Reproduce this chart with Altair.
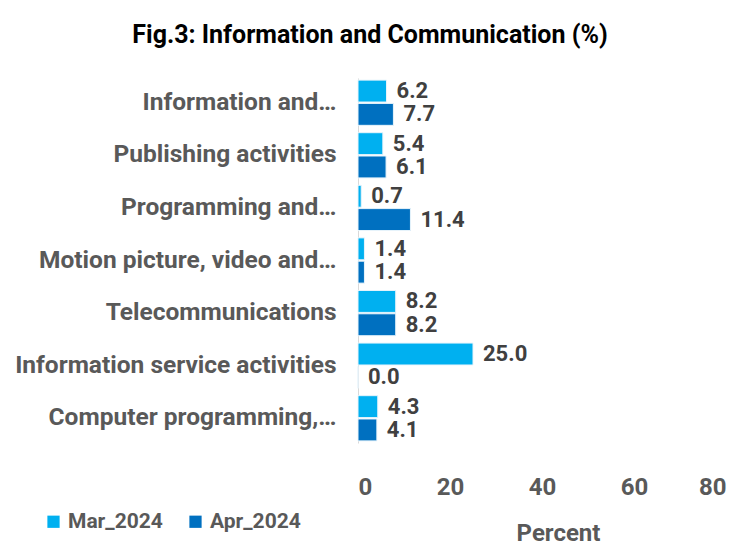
import altair as alt
import pandas as pd

categories = [
    "Information and…",
    "Publishing activities",
    "Programming and…",
    "Motion picture, video and…",
    "Telecommunications",
    "Information service activities",
    "Computer programming,…",
]
mar_2024 = [6.2, 5.4, 0.7, 1.4, 8.2, 25.0, 4.3]
apr_2024 = [7.7, 6.1, 11.4, 1.4, 8.2, 0.0, 4.1]
series = ["Mar_2024", "Apr_2024"]
colors = ["#00B0F0", "#0070C0"]
x_ticks = [0, 20, 40, 60, 80]

rows = []
for c, m, a in zip(categories, mar_2024, apr_2024):
    rows.append({"category": c, "series": "Mar_2024", "value": m})
    rows.append({"category": c, "series": "Apr_2024", "value": a})
df = pd.DataFrame(rows)

FONT = "Roboto, Liberation Sans, sans-serif"

y_enc = alt.Y("category:N", sort=categories,
              scale=alt.Scale(paddingInner=0.14, paddingOuter=0.04),
              axis=alt.Axis(title=None, labelFontSize=24.5, labelFontWeight="bold",
                            labelColor="#595959", labelFont=FONT, ticks=False,
                            labelPadding=22, labelLimit=400,
                            domainColor="#D9D9D9", domainWidth=1))
x_enc = alt.X("value:Q", scale=alt.Scale(domain=[0, 80]),
              axis=alt.Axis(values=x_ticks, title="Percent", grid=False, domain=False,
                            ticks=False, labelFontSize=24, labelFontWeight="bold",
                            labelColor="#595959", labelFont=FONT, labelPadding=32,
                            titleFontSize=24, titleFontWeight="bold", titleColor="#595959",
                            titleFont=FONT, titleX=200, titleY=97, titleAlign="center",
                            titleBaseline="alphabetic"))
yoff = alt.YOffset("series:N", sort=series, scale=alt.Scale(paddingInner=0.06))

bars = alt.Chart(df).mark_bar(stroke="#E8F4FB", strokeWidth=1).encode(
    y=y_enc, x=x_enc, yOffset=yoff,
    color=alt.Color("series:N", sort=series,
                    scale=alt.Scale(domain=series, range=colors),
                    legend=alt.Legend(title=None, orient="none", legendX=-315, legendY=433,
                                      direction="horizontal", symbolType="square",
                                      symbolSize=150, labelFontSize=21,
                                      labelFontWeight="bold", labelColor="#595959",
                                      labelFont=FONT, columnPadding=22, symbolStrokeWidth=0)),
)

labels = alt.Chart(df).mark_text(align="left", baseline="middle", dx=10, fontSize=22,
                                 fontWeight="bold", color="#404040", font=FONT).encode(
    y=alt.Y("category:N", sort=categories), x="value:Q", yOffset=yoff,
    text=alt.Text("value:Q", format=".1f"),
)

chart = alt.layer(bars, labels).properties(
    width=368, height=365,
    autosize=alt.AutoSizeParams(type="none"),
    padding={"left": 350, "top": 70, "right": 7, "bottom": 105},
    title=alt.TitleParams("Fig.3: Information and Communication (%)", fontSize=25,
                          fontWeight="bold", color="#000000", font=FONT,
                          anchor="middle", dx=-172, offset=30),
).configure_view(stroke=None)

chart.save("out.html", embed_options={"renderer": "svg", "actions": False})
